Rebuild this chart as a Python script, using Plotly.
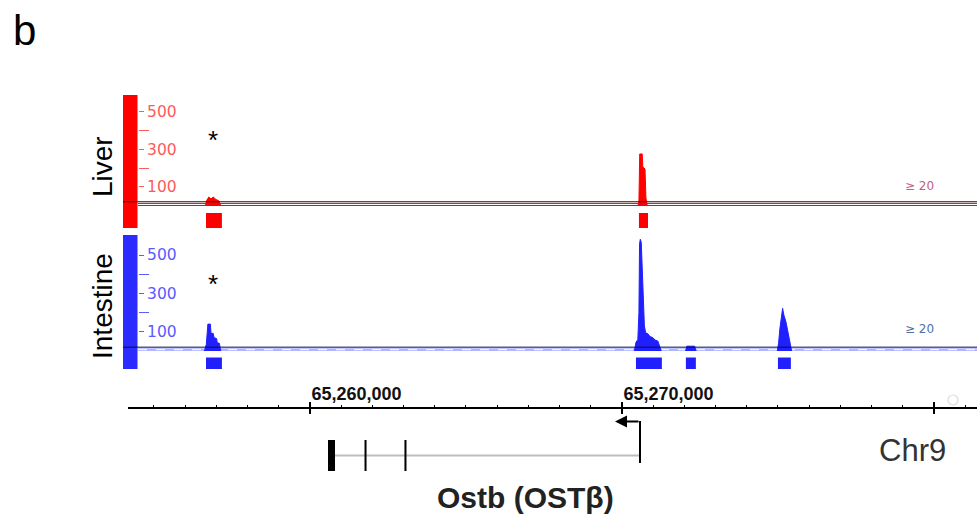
import plotly.graph_objects as go

# ---------------- data ----------------
liver_peak_a_pos = [65256650, 65256700, 65256760, 65256830, 65256900, 65256990, 65257080, 65257140]
liver_peak_a_val = [0, 30, 45, 35, 45, 32, 25, 0]
liver_peak_b_pos = [65270510, 65270545, 65270570, 65270650, 65270670, 65270740, 65270770, 65270810]
liver_peak_b_val = [0, 20, 275, 275, 205, 195, 40, 0]

intestine_peak_a_pos = [65256620, 65256680, 65256730, 65256760, 65256810, 65256830, 65256900,
                        65256930, 65257010, 65257030, 65257100, 65257140]
intestine_peak_a_val = [0, 35, 140, 140, 140, 92, 92, 69, 65, 43, 40, 0]
intestine_peak_b_pos = [65270400, 65270450, 65270510, 65270545, 65270565, 65270590, 65270620,
                        65270650, 65270680, 65270720, 65270760, 65270830, 65270900, 65270990,
                        65271060, 65271150, 65271220, 65271260]
intestine_peak_b_val = [0, 45, 60, 200, 560, 582, 565, 450, 300, 130, 95, 90, 75, 70, 57, 52, 20, 0]
intestine_peak_c_pos = [65272040, 65272080, 65272330, 65272380]
intestine_peak_c_val = [0, 25, 25, 0]
intestine_peak_d_pos = [65274980, 65275020, 65275065, 65275105, 65275150, 65275190, 65275255,
                        65275320, 65275385, 65275440]
intestine_peak_d_val = [0, 40, 120, 187, 222, 187, 153, 100, 48, 0]

liver_call_start = [65256670, 65270545]
liver_call_end = [65257180, 65270835]
intestine_call_start = [65256670, 65270450, 65272050, 65275000]
intestine_call_end = [65257180, 65271280, 65272370, 65275415]

threshold = 20
liver_bg_level = 11
intestine_bg_level = 14

ruler_major = [65260000, 65270000, 65280000]
ruler_labels = ["65,260,000", "65,270,000", ""]
view_start, view_end = 65254170, 65281380

gene_name = "Ostb (OSTβ)"
gene_start, gene_tss = 65260640, 65270580
exon_start = [65260580, 65261750, 65263030]
exon_end = [65260805, 65261815, 65263095]
arrow_tip = 65269778

track_names = ["Liver", "Intestine"]
liver_ticks = [100, 300, 500]
liver_minor = [200, 400]
chrom = "Chr9"

# ---------------- styles ----------------
W, H = 977, 521
RED = "#ff0000"
BLUE = "#2020ff"


def px(x):
    return x / W


def py(y):
    return 1 - y / H


fig = go.Figure()


def peak(xs, ys, color, yaxis):
    fig.add_trace(go.Scatter(x=xs, y=ys, mode="lines", fill="tozeroy",
                             line=dict(color=color, width=1), fillcolor=color,
                             xaxis="x", yaxis=yaxis, hoverinfo="skip"))


peak(liver_peak_a_pos, liver_peak_a_val, RED, "y")
peak(liver_peak_b_pos, liver_peak_b_val, RED, "y")
for xs, ys in [(intestine_peak_a_pos, intestine_peak_a_val), (intestine_peak_b_pos, intestine_peak_b_val),
               (intestine_peak_c_pos, intestine_peak_c_val), (intestine_peak_d_pos, intestine_peak_d_val)]:
    peak(xs, ys, BLUE, "y2")

# dummy trace for second (bottom) ruler axis
fig.add_trace(go.Scatter(x=[ruler_major[0]], y=[0], mode="markers", marker=dict(opacity=0),
                         xaxis="x2", yaxis="y", hoverinfo="skip"))

shapes = []
# colour bars
shapes.append(dict(type="rect", xref="paper", yref="paper", x0=px(123), x1=px(137.5),
                   y0=py(228), y1=py(95), fillcolor=RED, line=dict(width=0)))
shapes.append(dict(type="rect", xref="paper", yref="paper", x0=px(123), x1=px(137.5),
                   y0=py(369), y1=py(235), fillcolor="#2b2bff", line=dict(width=0)))
# liver background double line
for lv in [0, liver_bg_level]:
    shapes.append(dict(type="line", xref="paper", yref="y", x0=px(138), x1=1, y0=lv, y1=lv,
                       line=dict(color=RED, width=1), layer="below"))
# intestine background band
shapes.append(dict(type="rect", xref="paper", yref="y2", x0=px(138), x1=1, y0=0, y1=intestine_bg_level,
                   fillcolor="rgba(110,120,255,0.55)", line=dict(width=0), layer="below"))
shapes.append(dict(type="line", xref="paper", yref="y2", x0=px(138), x1=1,
                   y0=intestine_bg_level / 2, y1=intestine_bg_level / 2,
                   line=dict(color="white", width=1, dash="dash"), layer="below"))
# threshold lines
shapes.append(dict(type="line", xref="paper", yref="y", x0=px(123), x1=1, y0=threshold, y1=threshold,
                   line=dict(color="#3a0808", width=1)))
shapes.append(dict(type="line", xref="paper", yref="y2", x0=px(123), x1=1, y0=threshold, y1=threshold,
                   line=dict(color="#0a0a40", width=1)))
# peak calls
for s, e in zip(liver_call_start, liver_call_end):
    shapes.append(dict(type="rect", xref="x", yref="paper", x0=s, x1=e, y0=py(228), y1=py(213),
                       fillcolor=RED, line=dict(width=0)))
for s, e in zip(intestine_call_start, intestine_call_end):
    shapes.append(dict(type="rect", xref="x", yref="paper", x0=s, x1=e, y0=py(369), y1=py(357.5),
                       fillcolor=BLUE, line=dict(width=0)))
# gene model
shapes.append(dict(type="line", xref="x", yref="paper", x0=gene_start, x1=gene_tss, y0=py(455.5), y1=py(455.5),
                   line=dict(color="#bdbdbd", width=2)))
for s, e in zip(exon_start, exon_end):
    shapes.append(dict(type="rect", xref="x", yref="paper", x0=s, x1=e, y0=py(471), y1=py(440),
                       fillcolor="black", line=dict(width=0)))
shapes.append(dict(type="line", xref="x", yref="paper", x0=gene_tss, x1=gene_tss, y0=py(463), y1=py(421),
                   line=dict(color="black", width=2)))
# small circle at ruler end
shapes.append(dict(type="circle", xref="paper", yref="paper", x0=px(948), x1=px(958), y0=py(405), y1=py(395),
                   line=dict(color="#dcdcdc", width=1.2)))


def label(x, y, text, size, color="black", family="Liberation Sans, Arial", angle=0, xref="paper"):
    return dict(x=x, y=py(y), xref=xref, yref="paper", text=text, showarrow=False,
                xanchor="center", yanchor="middle", textangle=angle,
                font=dict(family=family, size=size, color=color))


annotations = []
annotations.append(dict(x=arrow_tip, y=py(421.5), xref="x", yref="paper", ax=gene_tss, ay=0,
                        axref="x", ayref="pixel", showarrow=True, arrowhead=2, arrowsize=1.2,
                        arrowwidth=2, arrowcolor="black", text="", standoff=0))
annotations.append(label(px(24), 30, "b", 42))
annotations.append(label(px(102), 167, track_names[0], 28, angle=-90))
annotations.append(label(px(102), 306, track_names[1], 28, angle=-90))
annotations.append(label(px(213), 140, "*", 26))
annotations.append(label(px(213), 284, "*", 26))
annotations.append(label(px(919), 186, "≥ 20", 12, color="#c2607e", family="DejaVu Sans"))
annotations.append(label(px(919), 329, "≥ 20", 12, color="#4f6fa8", family="DejaVu Sans"))
annotations.append(label(px(912), 450, chrom, 31, color="#333333"))
annotations.append(label(px(525), 497, "<b>" + gene_name + "</b>", 30, color="#222222"))


def yax(dom_top, dom_bot, zero_px, scale, color):
    top = (zero_px - dom_top) / scale
    bot = -(dom_bot - zero_px) / scale
    return dict(domain=[py(dom_bot), py(dom_top)], range=[bot, top], anchor="free", position=px(138),
                side="right", showgrid=False, zeroline=False, showline=False,
                ticks="outside", ticklen=5, tickwidth=1, tickcolor=color,
                tickmode="array", tickvals=liver_ticks, ticktext=[str(v) for v in liver_ticks],
                tickfont=dict(family="DejaVu Sans", size=15.5, color=color),
                minor=dict(tickmode="array", tickvals=liver_minor, ticks="outside", ticklen=10,
                           tickwidth=1, tickcolor=color, showgrid=False),
                fixedrange=True)


fig.update_layout(
    width=W, height=H, margin=dict(l=0, r=0, t=0, b=0),
    paper_bgcolor="white", plot_bgcolor="rgba(0,0,0,0)", showlegend=False,
    shapes=shapes, annotations=annotations,
    xaxis=dict(domain=[px(128), 1], range=[view_start, view_end], anchor="free", position=py(408),
               side="top", showline=True, linecolor="black", linewidth=1.5, showgrid=False, zeroline=False,
               ticks="outside", ticklen=5, tickwidth=1.5, tickcolor="black",
               tickmode="array", tickvals=ruler_major, ticktext=["<b>" + t + "</b>" if t else "" for t in ruler_labels],
               ticklabelposition="outside right",
               tickfont=dict(family="Liberation Sans, Arial", size=18, color="#111111"),
               minor=dict(tickmode="linear", tick0=65250000, dtick=1000, ticks="outside", ticklen=2,
                          tickwidth=1, tickcolor="black", showgrid=False),
               fixedrange=True),
    xaxis2=dict(domain=[px(128), 1], range=[view_start, view_end], anchor="free", position=py(408),
                overlaying="x", side="bottom", showline=False, showgrid=False, zeroline=False,
                ticks="outside", ticklen=5, tickwidth=1.5, tickcolor="black",
                tickmode="array", tickvals=ruler_major, showticklabels=False, fixedrange=True),
    yaxis=yax(95, 228, 205.5, 0.1875, "#ff5a5a"),
    yaxis2=yax(235, 369, 351, 0.192, "#5a5aff"),
)

fig.write_html("out.html")
